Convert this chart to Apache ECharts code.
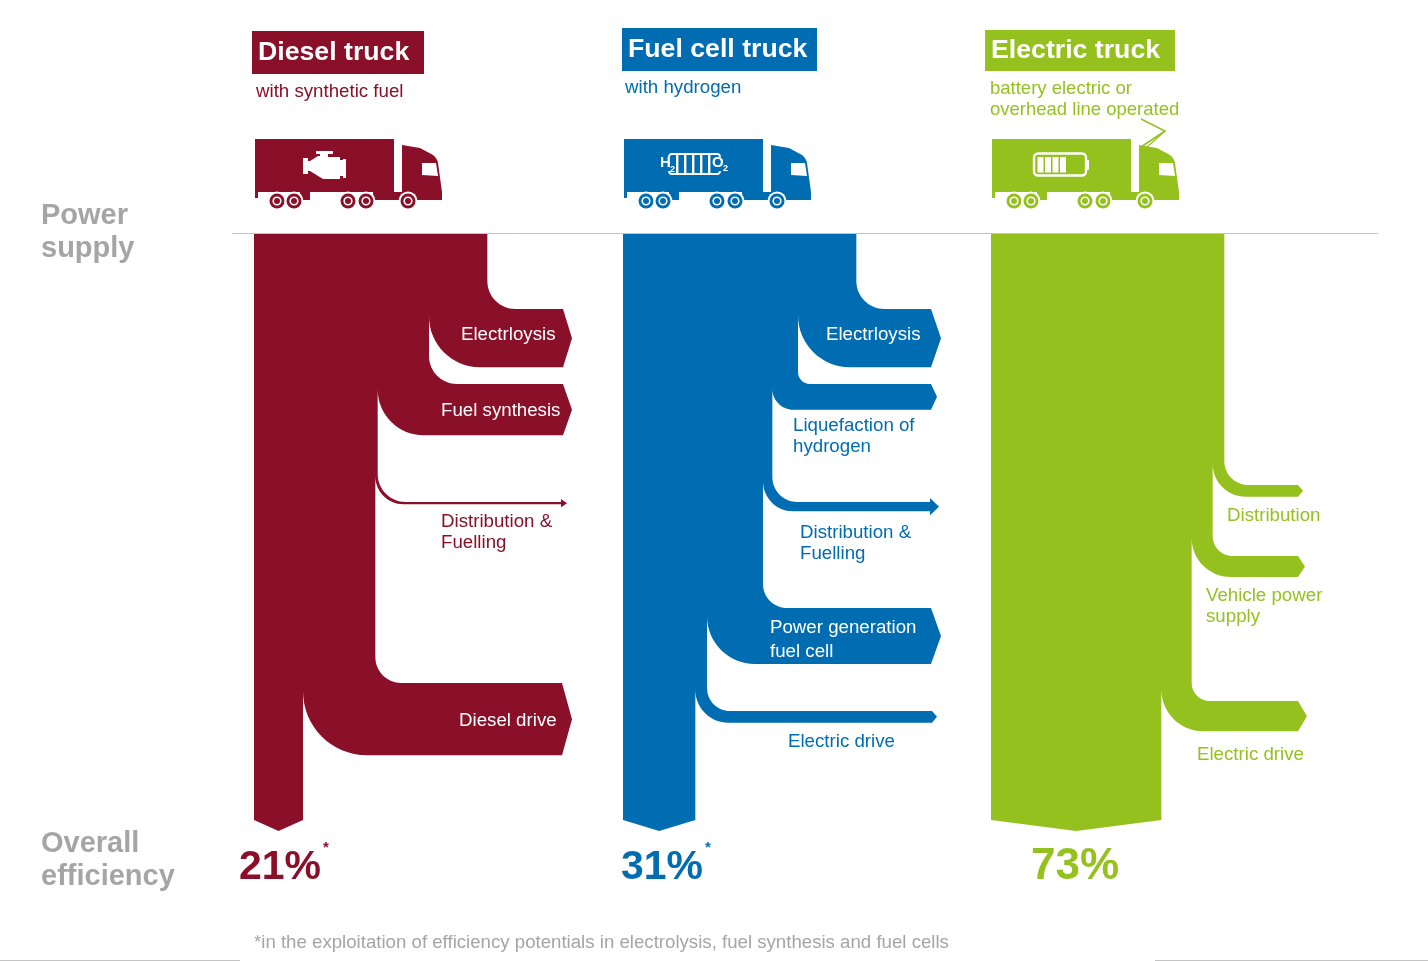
<!DOCTYPE html>
<html>
<head>
<meta charset="utf-8">
<title>Overall efficiency of truck drive concepts</title>
<script src="https://cdn.jsdelivr.net/npm/echarts@6/dist/echarts.min.js"></script>
<style>html,body{margin:0;padding:0;background:#fff}#chart{width:1428px;height:961px}</style>
</head>
<body>
<div id="chart"></div>
<script>
// Energy shares, in percent of the power supplied to each truck
const dieselStages = ['Electrloysis', 'Fuel synthesis', 'Distribution &\nFuelling', 'Diesel drive'];
const dieselLosses = [25, 22, 1, 31];
const dieselOverall = 21;

const fuelCellStages = ['Electrloysis', 'Liquefaction of\nhydrogen', 'Distribution &\nFuelling', 'Power generation\nfuel cell', 'Electric drive'];
const fuelCellLosses = [25, 11, 4, 24, 5];
const fuelCellOverall = 31;

const electricStages = ['Distribution', 'Vehicle power\nsupply', 'Electric drive'];
const electricLosses = [5, 9, 13];
const electricOverall = 73;

const truckTitles = ['Diesel truck', 'Fuel cell truck', 'Electric truck'];
const truckSubtitles = ['with synthetic fuel', 'with hydrogen', 'battery electric or\noverhead line operated'];
const rowTitles = ['Power\nsupply', 'Overall\nefficiency'];
const footnote = '*in the exploitation of efficiency potentials in electrolysis, fuel synthesis and fuel cells';

// Colours and type
const MAROON = '#8a1029', BLUE = '#006cb1', GREEN = '#95c11f', GREY = '#a5a5a5';
const FONT = '"Liberation Sans", Arial, sans-serif';

// Axis scale: the x axis runs in percent of supplied energy, the y axis in layout rows
const X_MAX = 612, Y_MAX = 961, FLOW_TOP = 234, FLOW_SHOULDER = 820, FLOW_TIP = 831;
const columnStarts = [108.86, 267, 424.71];

// Branch layout per stage: top edge, bend radii, arrow shoulder and tip offset from the column's left edge
const dieselLayout = [
  {top: 309, rOut: 28, rIn: 51, sh: 309, tip: 318},
  {top: 384, rOut: 28, rIn: 46, sh: 309, tip: 318},
  {top: 502, rOut: 28, rIn: 28, sh: 307, tip: 313, head: 3},
  {top: 683, rOut: 26, rIn: 64, sh: 308, tip: 318}
];
const fuelCellLayout = [
  {top: 309, rOut: 28, rIn: 52, sh: 308, tip: 318},
  {top: 384, rOut: 12, rIn: 21, sh: 308, tip: 314},
  {top: 502, rOut: 25, rIn: 30, sh: 307, tip: 316, head: 4},
  {top: 608, rOut: 24, rIn: 48, sh: 308, tip: 318},
  {top: 711, rOut: 23, rIn: 33, sh: 309, tip: 314}
];
const electricLayout = [
  {top: 485, rOut: 24, rIn: 33, sh: 307, tip: 312},
  {top: 556, rOut: 20, rIn: 39, sh: 307, tip: 314},
  {top: 701, rOut: 18, rIn: 42, sh: 307, tip: 316}
];

const KAPPA = 0.5523;

// Draws one whole flow as a single outline so that branches join without seams
function flowRenderer(layout, color) {
  return function (params, api) {
    const x0 = api.coord([api.value(0), FLOW_TOP])[0];
    const yTop = api.coord([0, FLOW_TOP])[1];
    const unit = api.size([1, 0])[0];
    const overall = api.value(1);
    const losses = layout.map(function (_, i) { return api.value(i + 2); });
    const total = overall + losses.reduce(function (a, b) { return a + b; }, 0);
    let xR = x0 + total * unit;
    let d = 'M' + x0 + ' ' + yTop + 'L' + xR + ' ' + yTop;
    layout.forEach(function (g, i) {
      const top = api.coord([0, g.top])[1];
      const band = losses[i] * unit;
      const bot = top + band;
      const mid = (top + bot) / 2;
      const xIn = xR - band;
      const h = g.head || 0;
      const sx = x0 + g.sh, tx = x0 + g.tip;
      const ko = g.rOut * KAPPA, ki = g.rIn * KAPPA;
      d += 'L' + xR + ' ' + (top - g.rOut);
      d += 'C' + xR + ' ' + (top - g.rOut + ko) + ' ' + (xR + g.rOut - ko) + ' ' + top + ' ' + (xR + g.rOut) + ' ' + top;
      d += 'L' + sx + ' ' + top;
      if (h) d += 'L' + sx + ' ' + (top - h);
      d += 'L' + tx + ' ' + mid;
      if (h) d += 'L' + sx + ' ' + (bot + h);
      d += 'L' + sx + ' ' + bot;
      d += 'L' + (xIn + g.rIn) + ' ' + bot;
      d += 'C' + (xIn + g.rIn - ki) + ' ' + bot + ' ' + xIn + ' ' + (bot - g.rIn + ki) + ' ' + xIn + ' ' + (bot - g.rIn);
      xR = xIn;
    });
    const ySh = api.coord([0, FLOW_SHOULDER])[1];
    const yTip = api.coord([0, FLOW_TIP])[1];
    d += 'L' + xR + ' ' + ySh + 'L' + (x0 + xR) / 2 + ' ' + yTip + 'L' + x0 + ' ' + ySh + 'Z';
    return {type: 'path', shape: {pathData: d}, style: {fill: color}};
  };
}

function flowSeries(name, start, overall, losses, layout, color) {
  return {
    type: 'custom',
    name: name,
    coordinateSystem: 'cartesian2d',
    silent: true,
    data: [[start, overall].concat(losses)],
    encode: {x: 0, y: 1},
    renderItem: flowRenderer(layout, color),
    clip: false
  };
}

function text(str, x, y, size, fill, opts) {
  return {
    type: 'text', z: 100, x: x, y: y,
    style: Object.assign({
      text: str, fill: fill, font: 'normal ' + size + 'px ' + FONT,
      align: 'left', verticalAlign: 'middle'
    }, opts || {})
  };
}
function boldText(str, x, y, size, fill, lineHeight) {
  const o = text(str, x, y, size, fill, lineHeight ? {lineHeight: lineHeight, verticalAlign: 'top'} : null);
  o.style.font = 'bold ' + size + 'px ' + FONT;
  return o;
}
// Multi-line stage label: y is the middle of the first line
function label(str, x, y, fill, lineHeight, size) {
  const lh = lineHeight || 21;
  return text(str, x, y - lh / 2, size || 18.7, fill, {lineHeight: lh, verticalAlign: 'top'});
}

// Truck silhouette, local to the left top corner of the trailer
const WHEEL_X = [23, 40, 94, 112, 154];
const TRUCK_BODY = 'M1 1H140V54H1Z M1 54H4V60H1Z M46 54H56V62H46Z M119 54H148V62H119Z ' +
  'M148 7L166 10L179 17Q183 20 184 25L188 54L188 62H148Z';
const TRUCK_WINDOW = 'M168 25H182L184 38L168 37Z';

function truck(x, color, icon) {
  const kids = [
    {type: 'path', shape: {pathData: TRUCK_BODY}, style: {fill: color}},
    {type: 'path', shape: {pathData: TRUCK_WINDOW}, style: {fill: '#fff'}}
  ];
  WHEEL_X.forEach(function (wx) {
    kids.push({type: 'circle', shape: {cx: wx, cy: 63, r: 9.5}, style: {fill: '#fff'}});
    kids.push({type: 'circle', shape: {cx: wx, cy: 63, r: 7.5}, style: {fill: color}});
    kids.push({type: 'circle', shape: {cx: wx, cy: 63, r: 3.8}, style: {fill: color, stroke: '#fff', lineWidth: 1.6}});
  });
  return {type: 'group', x: x, y: 138, children: kids.concat(icon)};
}

const engineIcon = [{
  type: 'path',
  shape: {pathData: 'M62 13H79V16H74V19H86V22H89V21H92V40H89V38H86V41H69L56 33H54V36H49V20H54V23H56L64 18H66V16H62Z'},
  style: {fill: '#fff'}
}];

const fuelCellIcon = [
  {type: 'rect', shape: {x: 46, y: 16, width: 51, height: 20, r: 3}, style: {fill: 'none', stroke: '#fff', lineWidth: 1.8}},
  {type: 'rect', shape: {x: 37, y: 19, width: 14, height: 14}, style: {fill: BLUE}},
  {type: 'rect', shape: {x: 87, y: 19, width: 17, height: 14}, style: {fill: BLUE}}
].concat([53, 61, 69, 77, 85].map(function (bx) {
  return {type: 'rect', shape: {x: bx, y: 17, width: 2.4, height: 18}, style: {fill: '#fff'}};
})).concat([
  boldText('H', 37, 25, 15, '#fff'),
  boldText('2', 47, 32, 9, '#fff'),
  boldText('O', 89, 25, 15, '#fff'),
  boldText('2', 100, 31, 9, '#fff')
]);

const batteryIcon = [
  {type: 'rect', shape: {x: 43, y: 15.5, width: 52, height: 22, r: 4}, style: {fill: 'none', stroke: '#fff', lineWidth: 2.4}},
  {type: 'rect', shape: {x: 95, y: 22, width: 3, height: 10, r: 1}, style: {fill: '#fff'}}
].concat([46.5, 54, 61.5, 69].map(function (bx) {
  return {type: 'rect', shape: {x: bx, y: 19, width: 6, height: 15.5}, style: {fill: '#fff'}};
}));

const pantograph = [
  {type: 'polyline', shape: {points: [[150, 9], [174, -7], [150, -19]]},
    style: {fill: 'none', stroke: GREEN, lineWidth: 1.6}},
  {type: 'line', shape: {x1: 156, y1: 9, x2: 174, y2: -7}, style: {stroke: GREEN, lineWidth: 1.2}}
];

// The truck pictures are drawn by a custom series, which accepts free-form paths
const truckPictures = [
  truck(254, MAROON, engineIcon),
  truck(623, BLUE, fuelCellIcon),
  truck(991, GREEN, batteryIcon.concat(pantograph))
];

function titleBox(str, x, y, w, h, color, textX) {
  return [
    {type: 'rect', z: 100, shape: {x: x, y: y, width: w, height: h}, style: {fill: color}},
    boldText(str, textX, y + h / 2, 26.7, '#fff')
  ];
}

const graphics = [].concat(
  titleBox(truckTitles[0], 252, 31, 172, 43, MAROON, 258),
  titleBox(truckTitles[1], 622, 28, 195, 43, BLUE, 628),
  titleBox(truckTitles[2], 985, 30, 190, 41, GREEN, 991),
  [
    label(truckSubtitles[0], 256, 92, MAROON),
    label(truckSubtitles[1], 625, 88, BLUE),
    label(truckSubtitles[2], 990, 89, GREEN, 21, 18.5),

    {type: 'line', z: 100, shape: {x1: 232, y1: 233.5, x2: 1378, y2: 233.5}, style: {stroke: '#c4c4c4', lineWidth: 1}},
    {type: 'line', z: 100, shape: {x1: 0, y1: 960.5, x2: 240, y2: 960.5}, style: {stroke: '#c4c4c4', lineWidth: 1}},
    {type: 'line', z: 100, shape: {x1: 1155, y1: 960.5, x2: 1428, y2: 960.5}, style: {stroke: '#c4c4c4', lineWidth: 1}},

    boldText(rowTitles[0], 41, 199, 29, GREY, 33),
    boldText(rowTitles[1], 41, 827, 29, GREY, 33),

    label(dieselStages[0], 461, 335, '#fff'),
    label(dieselStages[1], 441, 411, '#fff'),
    label(dieselStages[2], 441, 522, MAROON),
    label(dieselStages[3], 459, 721, '#fff'),

    label(fuelCellStages[0], 826, 335, '#fff'),
    label(fuelCellStages[1], 793, 426, BLUE),
    label(fuelCellStages[2], 800, 533, BLUE),
    label(fuelCellStages[3], 770, 628, '#fff', 24),
    label(fuelCellStages[4], 788, 742, BLUE),

    label(electricStages[0], 1227, 516, GREEN),
    label(electricStages[1], 1206, 596, GREEN),
    label(electricStages[2], 1197, 755, GREEN),

    boldText(dieselOverall + '%', 239, 868, 41, MAROON),
    boldText('*', 323, 848, 15, MAROON),
    boldText(fuelCellOverall + '%', 621, 868, 41, BLUE),
    boldText('*', 705, 848, 15, BLUE),
    boldText(electricOverall + '%', 1031, 867, 44, GREEN),

    text(footnote, 254, 943, 18.65, GREY)
  ]
);

const chart = echarts.init(document.getElementById('chart'), null, {renderer: 'canvas'});
chart.setOption({
  animation: false,
  backgroundColor: '#fff',
  grid: {left: 0, right: 0, top: 0, bottom: 0},
  xAxis: {type: 'value', min: 0, max: X_MAX, show: false},
  yAxis: {type: 'value', min: 0, max: Y_MAX, inverse: true, show: false},
  graphic: {elements: graphics},
  series: [
    flowSeries(truckTitles[0], columnStarts[0], dieselOverall, dieselLosses, dieselLayout, MAROON),
    flowSeries(truckTitles[1], columnStarts[1], fuelCellOverall, fuelCellLosses, fuelCellLayout, BLUE),
    flowSeries(truckTitles[2], columnStarts[2], electricOverall, electricLosses, electricLayout, GREEN),
    {
      type: 'custom',
      name: 'Trucks',
      coordinateSystem: 'cartesian2d',
      silent: true,
      data: [[0, 0]],
      renderItem: function () { return {type: 'group', children: truckPictures}; },
      clip: false
    }
  ]
});
</script>
</body>
</html>
